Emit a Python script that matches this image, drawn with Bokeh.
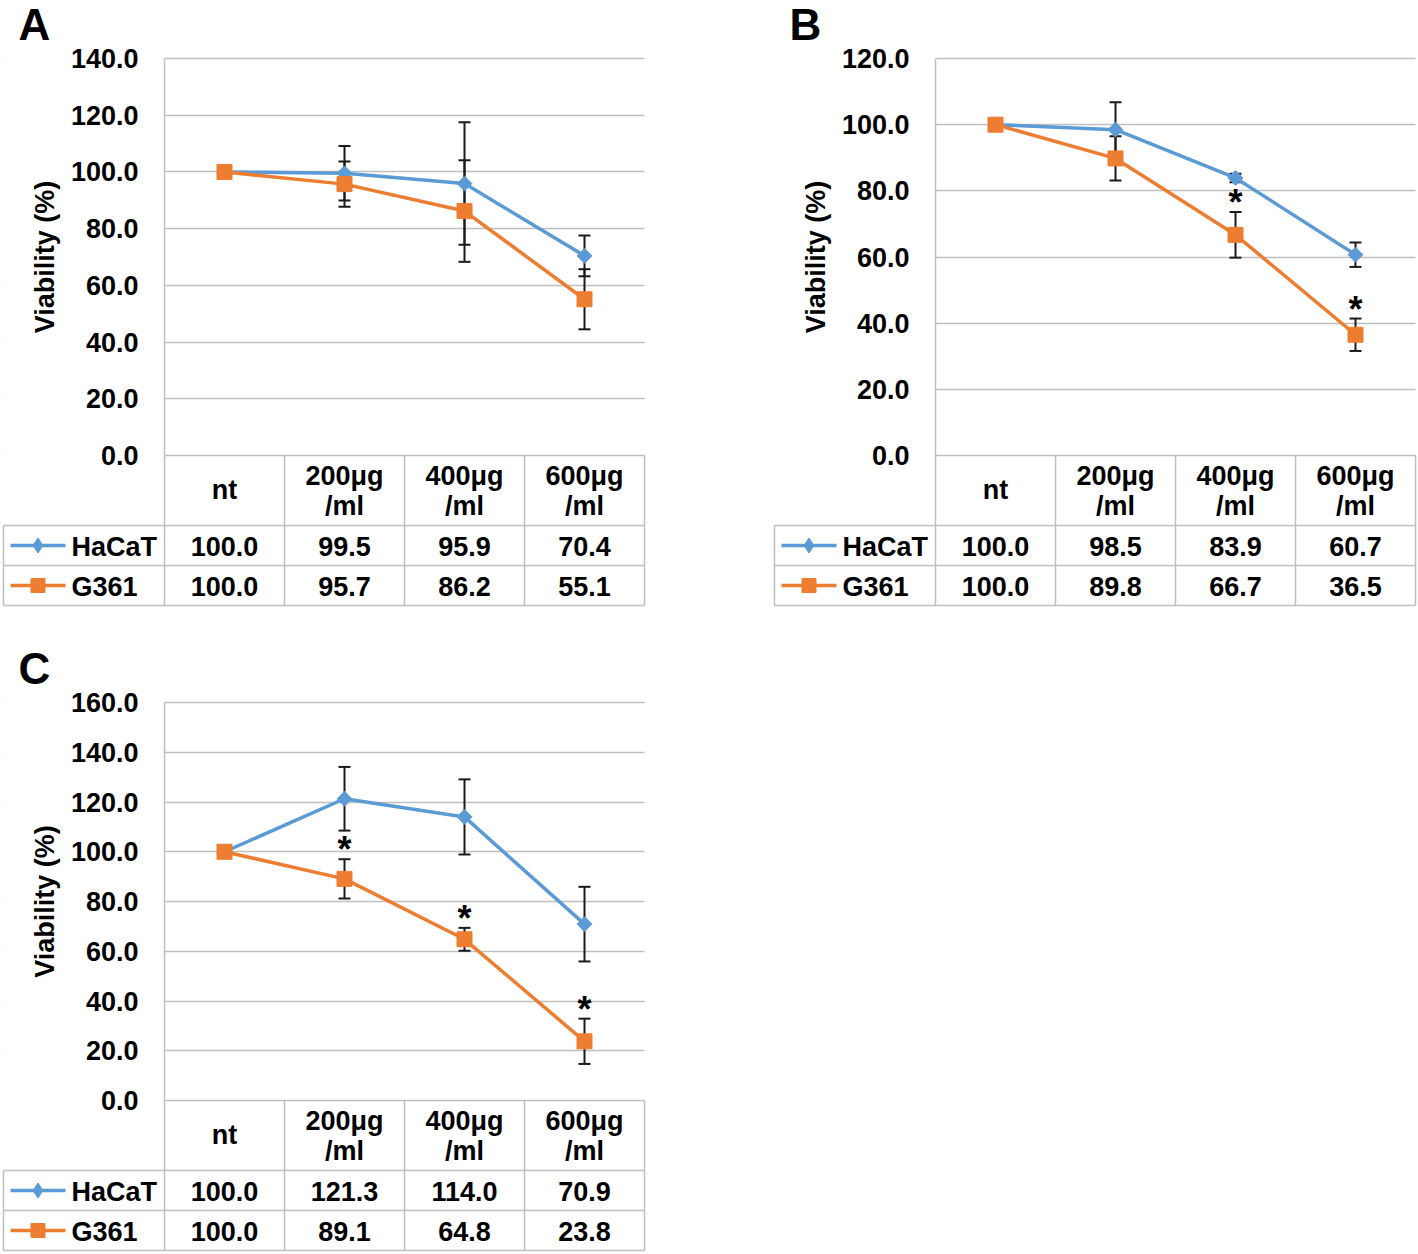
from bokeh.plotting import figure
from bokeh.models import (Range1d, FixedTicker, PrintfTickFormatter, Whisker, TeeHead,
                          ColumnDataSource, BoxAnnotation, Spacer)
from bokeh.layouts import column, row
from bokeh.embed import file_html
from bokeh.resources import INLINE
from bokeh.core.properties import value
import numpy as np

# ---------------- data ----------------
categories = ["nt", "200μg\n/ml", "400μg\n/ml", "600μg\n/ml"]
series_names = ["HaCaT", "G361"]

A_hacat = [100.0, 99.5, 95.9, 70.4]
A_hacat_err = [0.0, 9.6, 21.6, 7.2]
A_g361 = [100.0, 95.7, 86.2, 55.1]
A_g361_err = [0.0, 8.0, 17.9, 10.6]
A_sig = [False, False, False, False]
A_ymax = 140

B_hacat = [100.0, 98.5, 83.9, 60.7]
B_hacat_err = [0.0, 8.3, 1.3, 3.7]
B_g361 = [100.0, 89.8, 66.7, 36.5]
B_g361_err = [0.0, 6.7, 6.9, 4.9]
B_sig = [False, False, True, True]
B_ymax = 120

C_hacat = [100.0, 121.3, 114.0, 70.9]
C_hacat_err = [0.0, 12.8, 15.1, 15.0]
C_g361 = [100.0, 89.1, 64.8, 23.8]
C_g361_err = [0.0, 7.9, 4.6, 9.1]
C_sig = [False, True, True, True]
C_ymax = 160

y_title = "Viability (%)"

# ---------------- style / layout ----------------
FONT = "Liberation Sans"
BLUE = "#5B9BD5"
ORANGE = "#ED7D31"
GRID = "#BFBFBF"
INK = "#000000"
ERR = "#1A1A1A"

LEFT = 164      # px from panel left edge to plot area
CAT_W = 120     # px per category
NCAT = len(categories)
FRAME_W = CAT_W * NCAT
RIGHT = 2
W = LEFT + FRAME_W + RIGHT
HEAD_H, ROW_H = 70, 40
TABLE_H = 152
TXT = "27px"


def u(px):
    """horizontal pixel offset from the plot-area left edge -> x units"""
    return px / CAT_W


def make_panel(letter, hac, hac_e, g, g_e, sig, ymax, plot_h, top_px):
    ppu = plot_h / ymax

    def ty(tpx):  # pixels below the 0 line -> y units
        return -tpx / ppu

    xs = [i + 0.5 for i in range(NCAT)]
    p = figure(frame_width=W, frame_height=top_px + plot_h + TABLE_H,
               x_range=Range1d(u(-LEFT), u(FRAME_W + RIGHT)),
               y_range=Range1d(ty(TABLE_H), ymax + top_px / ppu),
               min_border_left=0, min_border_right=0,
               min_border_top=0, min_border_bottom=0,
               x_axis_location=None,
               toolbar_location=None, output_backend="svg",
               outline_line_color=None, background_fill_color="white",
               border_fill_color="white")

    ticks = list(range(0, ymax + 1, 20))
    tk = FixedTicker(ticks=ticks, minor_ticks=[])
    ax = p.yaxis[0]
    ax.fixed_location = 0
    ax.bounds = (0, ymax)
    ax.ticker = tk
    ax.formatter = PrintfTickFormatter(format="%.1f")
    ax.axis_line_color = GRID
    ax.axis_line_width = 1.5
    ax.major_tick_line_color = None
    ax.minor_tick_line_color = None
    ax.major_tick_out = 0
    ax.major_tick_in = 0
    ax.major_label_standoff = 26
    ax.major_label_text_font = FONT
    ax.major_label_text_font_style = "bold"
    ax.major_label_text_font_size = TXT
    ax.major_label_text_color = INK
    ax.axis_label = y_title
    ax.axis_label_text_font = FONT
    ax.axis_label_text_font_style = "bold"
    ax.axis_label_text_font_size = "27px"
    ax.axis_label_text_color = INK
    ax.axis_label_standoff = 8
    p.ygrid.ticker = tk
    p.ygrid.grid_line_color = GRID
    p.ygrid.grid_line_width = 1.5
    p.xgrid.visible = False
    # keep the horizontal grid inside the plot area only
    p.add_layout(BoxAnnotation(right=0, fill_color="white", fill_alpha=1.0,
                               line_alpha=0, level="underlay"))
    p.add_layout(BoxAnnotation(left=NCAT, fill_color="white", fill_alpha=1.0,
                               line_alpha=0, level="underlay"))

    # error bars (behind markers)
    for vals, errs in ((hac, hac_e), (g, g_e)):
        keep = [i for i in range(NCAT) if errs[i] > 0]
        src = ColumnDataSource(dict(x=[xs[i] for i in keep],
                                    upper=[vals[i] + errs[i] for i in keep],
                                    lower=[vals[i] - errs[i] for i in keep]))
        p.add_layout(Whisker(base="x", upper="upper", lower="lower", source=src,
                             dimension="height", line_color=ERR, line_width=2,
                             upper_head=TeeHead(size=12, line_color=ERR, line_width=2),
                             lower_head=TeeHead(size=12, line_color=ERR, line_width=2)))

    p.line(xs, hac, line_color=BLUE, line_width=3.5)
    p.scatter(xs, hac, marker="square", angle=np.pi / 4, size=10.5,
              fill_color=BLUE, line_color=BLUE)
    p.line(xs, g, line_color=ORANGE, line_width=3.5)
    p.scatter(xs, g, marker="square", size=15, fill_color=ORANGE, line_color=ORANGE)

    # significance stars above the G361 error bar
    sx = [xs[i] for i in range(NCAT) if sig[i]]
    sy = [g[i] + g_e[i] + 9.5 / ppu for i in range(NCAT) if sig[i]]
    if sx:
        p.text(sx, sy, text=["*"] * len(sx), text_font=value(FONT),
               text_font_style="bold", text_font_size="36px", text_color=INK,
               text_align="center", text_baseline="middle")

    # panel letter
    p.text([u(-146)], [ymax + 34 / ppu], text=[letter], text_font=value(FONT),
           text_font_style="bold", text_font_size="44px", text_color=INK,
           text_align="left", text_baseline="alphabetic")

    # ---------------- data table ----------------
    bottom = HEAD_H + 2 * ROW_H
    lx = u(-161)
    x0 = [i for i in range(NCAT + 1)] + [lx, lx, lx, lx]
    x1 = [i for i in range(NCAT + 1)] + [lx, NCAT, NCAT, NCAT]
    y0 = [0] * (NCAT + 1) + [HEAD_H, HEAD_H, HEAD_H + ROW_H, bottom]
    y1 = [bottom] * (NCAT + 1) + [bottom, HEAD_H, HEAD_H + ROW_H, bottom]
    p.segment(x0, [ty(v) for v in y0], x1, [ty(v) for v in y1],
              line_color=GRID, line_width=1.5)

    hx, hy, ht = [], [], []
    for i, c in enumerate(categories):
        parts = c.split("\n")
        if len(parts) == 1:
            hx.append(xs[i]); hy.append(ty(34)); ht.append(parts[0])
        else:
            hx += [xs[i], xs[i]]; hy += [ty(20.5), ty(50.5)]; ht += parts
    p.text(hx, hy, text=ht, text_font=value(FONT), text_font_style="bold",
           text_font_size=TXT, text_color=INK, text_align="center",
           text_baseline="middle")

    for r, (name, vals, col) in enumerate(((series_names[0], hac, BLUE),
                                           (series_names[1], g, ORANGE))):
        yc = HEAD_H + ROW_H * r + ROW_H / 2
        p.text(xs, [ty(yc + 1)] * NCAT, text=[f"{v:.1f}" for v in vals],
               text_font=value(FONT), text_font_style="bold", text_font_size=TXT,
               text_color=INK, text_align="center", text_baseline="middle")
        p.line([u(-154), u(-99)], [ty(yc), ty(yc)], line_color=col, line_width=3.5)
        if r == 0:
            p.scatter([u(-126.5)], [ty(yc)], marker="diamond", size=15,
                      fill_color=col, line_color=col)
        else:
            p.scatter([u(-126.5)], [ty(yc)], marker="square", size=14,
                      fill_color=col, line_color=col)
        p.text([u(-93)], [ty(yc + 1)], text=[name], text_font=value(FONT),
               text_font_style="bold", text_font_size=TXT, text_color=INK,
               text_align="left", text_baseline="middle")
    return p


pA = make_panel("A", A_hacat, A_hacat_err, A_g361, A_g361_err, A_sig, A_ymax, 397, 58)
pB = make_panel("B", B_hacat, B_hacat_err, B_g361, B_g361_err, B_sig, B_ymax, 397, 58)
pC = make_panel("C", C_hacat, C_hacat_err, C_g361, C_g361_err, C_sig, C_ymax, 398, 95)

layout = column(row(pA, Spacer(width=125, height=10), pB), pC)

open("out.html", "w").write(file_html(layout, INLINE, title="Viability"))
